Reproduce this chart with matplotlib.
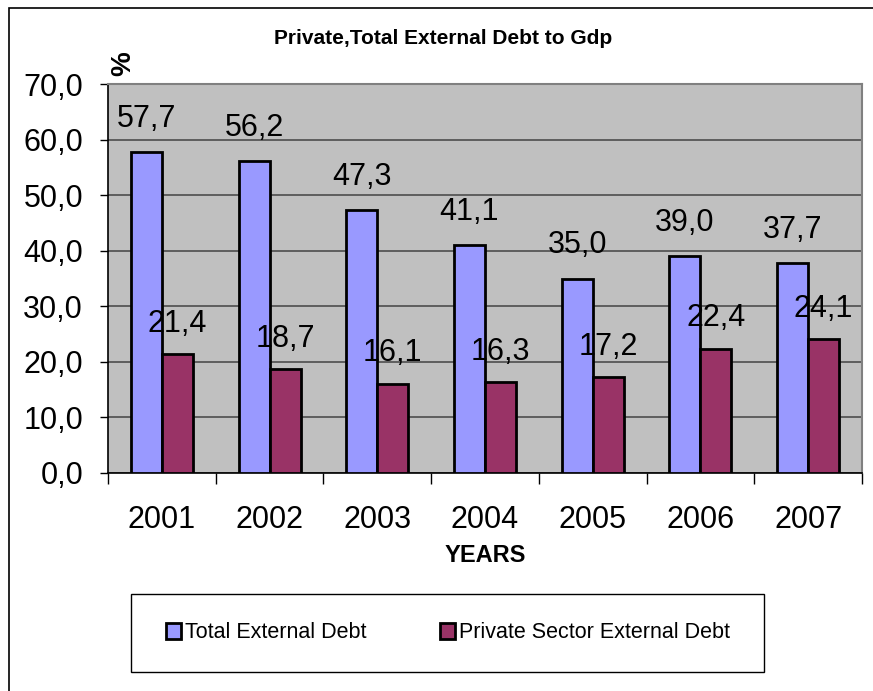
import matplotlib

matplotlib.use("Agg")
import matplotlib.pyplot as plt  # noqa: E402
import numpy as np  # noqa: E402
from matplotlib.patches import Patch, Rectangle  # noqa: E402
from matplotlib.ticker import FuncFormatter, MultipleLocator  # noqa: E402

plt.rcParams["font.family"] = ["Liberation Sans", "DejaVu Sans"]

years = ["2001", "2002", "2003", "2004", "2005", "2006", "2007"]
total_debt = [57.7, 56.2, 47.3, 41.1, 35.0, 39.0, 37.7]
private_debt = [21.4, 18.7, 16.1, 16.3, 17.2, 22.4, 24.1]
series_names = ["Total External Debt", "Private Sector External Debt"]

BLUE = "#9999FF"
MAROON = "#993366"
PLOT_BG = "#C0C0C0"

W, H = 873, 691
fig = plt.figure(figsize=(W / 100, H / 100), dpi=100)

# outer chart frame (runs off the right/bottom edge)
fig.patches.append(Rectangle((9 / W, -0.05), 1.1, 1 - 8 / H + 0.05,
                             transform=fig.transFigure, fill=False,
                             edgecolor="black", linewidth=1.2))

ax = fig.add_axes([108 / W, (H - 473) / H, 754 / W, 389 / H])
ax.set_facecolor(PLOT_BG)

x = np.arange(len(years))
bw = 0.288
b1 = ax.bar(x - bw / 2, total_debt, bw, color=BLUE, edgecolor="black", linewidth=2, zorder=3)
b2 = ax.bar(x + bw / 2, private_debt, bw, color=MAROON, edgecolor="black", linewidth=2, zorder=3)

fmt = lambda v: f"{v:.1f}".replace(".", ",")
for rect, v in zip(b1, total_debt):
    ax.annotate(fmt(v), (rect.get_x() + rect.get_width() / 2, v), xytext=(0, 13),
                textcoords="offset points", ha="center", va="bottom", fontsize=22,
                zorder=4, annotation_clip=False)
for rect, v in zip(b2, private_debt):
    ax.annotate(fmt(v), (rect.get_x() + rect.get_width() / 2, v), xytext=(0, 11),
                textcoords="offset points", ha="center", va="bottom", fontsize=22,
                zorder=4, annotation_clip=False)

ax.set_ylim(0, 70)
ax.set_xlim(-0.5, len(years) - 0.5)
ax.yaxis.set_major_locator(MultipleLocator(10))
ax.yaxis.set_major_formatter(FuncFormatter(lambda v, _: fmt(v)))
ax.grid(axis="y", color="#444444", linewidth=1.1, zorder=1)
ax.set_axisbelow(True)

# category boundaries get the tick marks, the year labels sit between them
ax.set_xticks(np.arange(len(years) + 1) - 0.5)
ax.set_xticklabels([])
ax.set_xticks(x, minor=True)
ax.set_xticklabels(years, minor=True, fontsize=22)
ax.tick_params(axis="x", which="major", direction="out", length=8, width=1)
ax.tick_params(axis="x", which="minor", length=0, pad=23)
ax.tick_params(axis="y", direction="out", length=6, width=1, labelsize=22, pad=12)

for side in ("top", "right"):
    ax.spines[side].set_color("#808080")
    ax.spines[side].set_linewidth(1.5)
for side in ("left", "bottom"):
    ax.spines[side].set_color("black")
    ax.spines[side].set_linewidth(1.2)

fig.text(443 / W, 1 - 38 / H, "Private,Total External Debt to Gdp",
         ha="center", va="center", fontsize=15, fontweight="bold")
fig.text(123 / W, 1 - 64 / H, "%", rotation=90, ha="center", va="center",
         fontsize=20, fontweight="bold")
fig.text(485 / W, 1 - 556 / H, "YEARS", ha="center", va="center",
         fontsize=17, fontweight="bold")

# legend box below the plot
fig.patches.append(Rectangle((131 / W, 1 - 672 / H), 633 / W, 78 / H,
                             transform=fig.transFigure, facecolor="white",
                             edgecolor="black", linewidth=1.0))
handles = [Patch(facecolor=BLUE, edgecolor="black", linewidth=2),
           Patch(facecolor=MAROON, edgecolor="black", linewidth=2)]
fig.legend(handles, series_names, loc="center", bbox_to_anchor=(448 / W, 1 - 633 / H),
           ncol=2, frameon=False, fontsize=15.5, handlelength=0.7, handleheight=0.7,
           handletextpad=0.2, columnspacing=3.4)

fig.savefig("out.png", dpi=100)
